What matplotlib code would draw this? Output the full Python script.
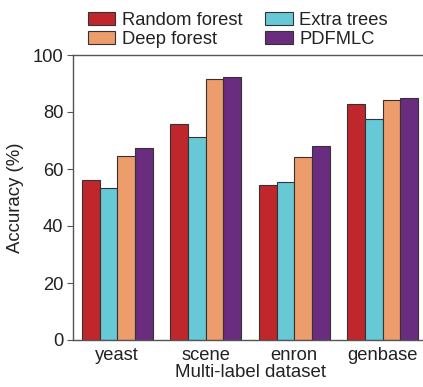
import matplotlib
matplotlib.use("Agg")
import matplotlib.pyplot as plt
import numpy as np

plt.rcParams['font.family'] = ['Liberation Sans', 'DejaVu Sans']

datasets = ["yeast", "scene", "enron", "genbase"]
methods = ["Random forest", "Extra trees", "Deep forest", "PDFMLC"]
random_forest = [56.1, 75.8, 54.5, 82.8]
extra_trees = [53.2, 71.2, 55.3, 77.4]
deep_forest = [64.5, 91.5, 64.2, 84.2]
pdfmlc = [67.2, 92.2, 68.0, 85.0]
colors = ["#C0272D", "#67C9D5", "#ED9C6C", "#6A2C7F"]
series = [random_forest, extra_trees, deep_forest, pdfmlc]

fig = plt.figure(figsize=(4.23, 3.87), dpi=100)
ax = fig.add_axes([73/423, 1-340/387, 354/423, 285/387])

x = np.arange(len(datasets))
w = 0.2
handles = []
for i, (vals, c, m) in enumerate(zip(series, colors, methods)):
    b = ax.bar(x + (i - 1.5) * w, vals, w, color=c, edgecolor="#333333",
               linewidth=0.8, label=m)
    handles.append(b)

ax.set_xlim(-0.5, 3.5)
ax.set_ylim(0, 100)
ax.set_yticks([0, 20, 40, 60, 80, 100])
ax.set_xticks(x)
ax.set_xticklabels(datasets)
ax.tick_params(labelsize=13.2, color="#555555", labelcolor="#222222",
               length=4, width=0.8)
ax.tick_params(axis='x', length=0, pad=5)
ax.tick_params(axis='y', pad=3)
for s in ax.spines.values():
    s.set_color("#555555")
    s.set_linewidth(1.0)
ax.set_ylabel("Accuracy (%)", fontsize=13.4, color="#222222", labelpad=6)
ax.set_xlabel("Multi-label dataset", fontsize=13.4, color="#222222", labelpad=0)

order = [0, 2, 1, 3]
fig.legend([handles[i] for i in order], [methods[i] for i in order],
           ncol=2, loc="upper left", bbox_to_anchor=(76/423, 1.0),
           frameon=False, fontsize=13.2, handlelength=1.5, handleheight=0.7,
           columnspacing=1.25, labelspacing=0.1, handletextpad=0.35,
           borderaxespad=0.25, labelcolor="#222222")

fig.savefig("out.png", dpi=100)
